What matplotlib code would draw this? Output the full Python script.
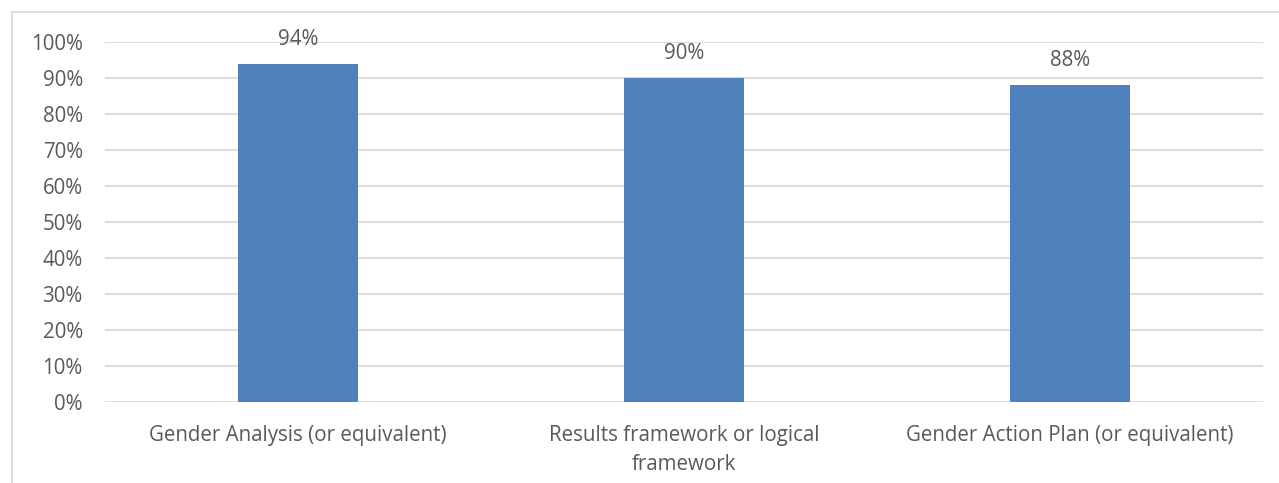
import matplotlib.pyplot as plt
from matplotlib.patches import Rectangle
from matplotlib.ticker import FuncFormatter, MultipleLocator

categories = [
    "Gender Analysis (or equivalent)",
    "Results framework or logical\nframework",
    "Gender Action Plan (or equivalent)",
]
values = [94, 90, 88]

BAR_COLOR = "#4F81BD"
TEXT_COLOR = "#595959"
GRID_COLOR = "#D9D9D9"
FS = 14.8

plt.rcParams["font.family"] = ["Open Sans", "DejaVu Sans"]

fig = plt.figure(figsize=(12.79, 4.83), dpi=100)
ax = fig.add_axes([105 / 1279, 1 - 402 / 483, (1263 - 105) / 1279, (402 - 42) / 483])

x = range(len(categories))
bars = ax.bar(x, values, width=0.313, color=BAR_COLOR, zorder=3)
for b, v in zip(bars, values):
    ax.text(b.get_x() + b.get_width() / 2, v + 6.8, f"{v}%", ha="center", va="center",
            fontsize=FS, color=TEXT_COLOR)

ax.set_xlim(-0.5, len(categories) - 0.5)
ax.set_ylim(0, 100)
ax.yaxis.set_major_locator(MultipleLocator(10))
ax.yaxis.set_major_formatter(FuncFormatter(lambda v, _: f"{v:.0f}%"))
ax.set_xticks(list(x))
ax.set_xticklabels(categories, fontsize=FS, color=TEXT_COLOR, linespacing=1.5)
ax.tick_params(axis="y", labelsize=FS, labelcolor=TEXT_COLOR, length=0, pad=16)
ax.tick_params(axis="x", length=0, pad=16.5)
ax.grid(axis="y", color=GRID_COLOR, linewidth=1.3, zorder=0)
ax.set_axisbelow(True)
for s in ax.spines.values():
    s.set_visible(False)

# chart border, only top and left edges visible in the crop
fig.patches.append(Rectangle((12 / 1279, -0.1), 1.2, 1 - 12 / 483 + 0.1,
                             transform=fig.transFigure, fill=False,
                             edgecolor=GRID_COLOR, linewidth=1.3))

fig.savefig("out.png", dpi=100)
